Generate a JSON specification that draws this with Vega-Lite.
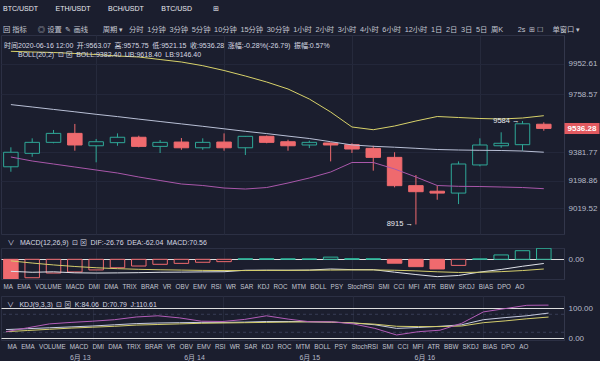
{
  "$schema": "https://vega.github.io/schema/vega-lite/v6.json",
  "background": "#1b1e2e",
  "padding": {"left": 0, "top": 5, "right": 0, "bottom": 0},
  "spacing": 3,
  "title": {
    "text": "BTC/USDT\u2003\u2003\u2002ETH/USDT\u2003\u2003\u2002BCH/USDT\u2003\u2003\u2002BTC/USD\u2003\u2003\u2003⊞",
    "subtitle": "回 指标\u2003\u2002◎ 设置\u2002✎ 画线\u2003\u2003周期 ▾\u2002 分时\u20021分钟\u20023分钟\u20025分钟\u200210分钟\u200215分钟\u200230分钟\u20021小时\u20022小时\u20023小时\u20024小时\u20026小时\u200212小时\u20021日\u20022日\u20023日\u20025日\u2002周K\u2003\u20032s\u2002⊞ ☐\u2003 单窗口 ▾",
    "anchor": "start",
    "frame": "bounds",
    "dx": 3,
    "fontSize": 7,
    "color": "#e8eaf0",
    "subtitleFontSize": 7.3,
    "subtitleColor": "#c3c6d1",
    "subtitlePadding": 14,
    "offset": 1
  },
  "datasets": {
    "k": [
      {"t": "2020-06-12T08:00", "open": 9288, "high": 9414, "low": 9256, "close": 9382, "ub": 10034.7, "mid": 9690.1, "lb": 9351.3, "macd": -134, "dif": -77, "dea": -10, "k": 29, "d": 22, "j": 22},
      {"t": "2020-06-12T12:00", "open": 9375, "high": 9472, "low": 9353, "close": 9446, "ub": 10030.2, "mid": 9674.6, "lb": 9325.4, "macd": -118, "dif": -83, "dea": -24, "k": 32, "d": 26, "j": 35},
      {"t": "2020-06-12T16:00", "open": 9446, "high": 9526, "low": 9440, "close": 9504, "ub": 10027, "mid": 9659, "lb": 9306, "macd": -88, "dif": -80, "dea": -36, "k": 35, "d": 30, "j": 48},
      {"t": "2020-06-12T20:00", "open": 9504, "high": 9565, "low": 9392, "close": 9429, "ub": 10020.5, "mid": 9643.5, "lb": 9286.6, "macd": -81, "dif": -86.5, "dea": -46, "k": 38, "d": 34, "j": 53},
      {"t": "2020-06-13T00:00", "open": 9424, "high": 9468, "low": 9317, "close": 9450, "ub": 10014, "mid": 9627.4, "lb": 9267.2, "macd": -68, "dif": -88, "dea": -54, "k": 41, "d": 37, "j": 57},
      {"t": "2020-06-13T04:00", "open": 9444, "high": 9504, "low": 9424, "close": 9479, "ub": 10004.3, "mid": 9612.5, "lb": 9247.8, "macd": -54, "dif": -87, "dea": -60, "k": 45, "d": 40, "j": 62},
      {"t": "2020-06-13T08:00", "open": 9479, "high": 9489, "low": 9414, "close": 9420, "ub": 9997.9, "mid": 9596.3, "lb": 9222, "macd": -43, "dif": -85.5, "dea": -64, "k": 49, "d": 44, "j": 71},
      {"t": "2020-06-13T12:00", "open": 9420, "high": 9461, "low": 9377, "close": 9446, "ub": 9981.7, "mid": 9580.8, "lb": 9199.3, "macd": -32, "dif": -83, "dea": -67, "k": 51, "d": 46, "j": 75},
      {"t": "2020-06-13T16:00", "open": 9448, "high": 9474, "low": 9398, "close": 9411, "ub": 9965.5, "mid": 9565.3, "lb": 9176.7, "macd": -26, "dif": -82, "dea": -69, "k": 52, "d": 48, "j": 68},
      {"t": "2020-06-13T20:00", "open": 9411, "high": 9472, "low": 9398, "close": 9446, "ub": 9941.6, "mid": 9549.8, "lb": 9167, "macd": -19, "dif": -80.5, "dea": -71, "k": 53, "d": 50, "j": 57},
      {"t": "2020-06-14T00:00", "open": 9448, "high": 9504, "low": 9392, "close": 9411, "ub": 9910.6, "mid": 9533.6, "lb": 9150.8, "macd": -15, "dif": -79.5, "dea": -72, "k": 53, "d": 51, "j": 56},
      {"t": "2020-06-14T04:00", "open": 9411, "high": 9487, "low": 9364, "close": 9485, "ub": 9875, "mid": 9517.4, "lb": 9144.3, "macd": 4, "dif": -70, "dea": -72, "k": 54, "d": 52, "j": 63},
      {"t": "2020-06-14T08:00", "open": 9485, "high": 9490, "low": 9440, "close": 9446, "ub": 9836.2, "mid": 9502.6, "lb": 9154, "macd": 3.5, "dif": -69.25, "dea": -71, "k": 56, "d": 53, "j": 75},
      {"t": "2020-06-14T12:00", "open": 9450, "high": 9463, "low": 9392, "close": 9424, "ub": 9791, "mid": 9486.4, "lb": 9183.2, "macd": 3, "dif": -69.5, "dea": -71, "k": 56, "d": 54, "j": 64},
      {"t": "2020-06-14T16:00", "open": 9429, "high": 9457, "low": 9409, "close": 9446, "ub": 9726.3, "mid": 9470.9, "lb": 9215.5, "macd": 2.5, "dif": -68.75, "dea": -70, "k": 55, "d": 55, "j": 55},
      {"t": "2020-06-14T20:00", "open": 9442, "high": 9444, "low": 9323, "close": 9429, "ub": 9642.2, "mid": 9450.2, "lb": 9254.3, "macd": 14, "dif": -62, "dea": -69, "k": 54, "d": 54, "j": 55},
      {"t": "2020-06-15T00:00", "open": 9431, "high": 9440, "low": 9377, "close": 9403, "ub": 9545.3, "mid": 9429.5, "lb": 9315.7, "macd": 4, "dif": -66, "dea": -68, "k": 51, "d": 51, "j": 48},
      {"t": "2020-06-15T04:00", "open": 9407, "high": 9424, "low": 9263, "close": 9349, "ub": 9527.8, "mid": 9420.5, "lb": 9315.7, "macd": 3.5, "dif": -66.25, "dea": -68, "k": 45, "d": 47, "j": 33},
      {"t": "2020-06-15T08:00", "open": 9349, "high": 9382, "low": 9155, "close": 9166, "ub": 9551.7, "mid": 9414.6, "lb": 9273.7, "macd": -25, "dif": -82.5, "dea": -70, "k": 33, "d": 40, "j": 11},
      {"t": "2020-06-15T12:00", "open": 9166, "high": 9235, "low": 8915, "close": 9127, "ub": 9584, "mid": 9407.5, "lb": 9222, "macd": -47, "dif": -97.5, "dea": -74, "k": 36, "d": 39, "j": 22},
      {"t": "2020-06-15T16:00", "open": 9130, "high": 9166, "low": 9075, "close": 9118, "ub": 9613.1, "mid": 9399.8, "lb": 9167, "macd": -62, "dif": -111, "dea": -80, "k": 40, "d": 39, "j": 27},
      {"t": "2020-06-15T20:00", "open": 9118, "high": 9323, "low": 9047, "close": 9306, "ub": 9606.7, "mid": 9396.5, "lb": 9161.8, "macd": -39, "dif": -103.5, "dea": -84, "k": 45, "d": 41, "j": 50},
      {"t": "2020-06-16T00:00", "open": 9300, "high": 9472, "low": 9291, "close": 9429, "ub": 9600.2, "mid": 9394.6, "lb": 9160.5, "macd": 3, "dif": -81.5, "dea": -83, "k": 62, "d": 52, "j": 88},
      {"t": "2020-06-16T04:00", "open": 9424, "high": 9511, "low": 9411, "close": 9440, "ub": 9597, "mid": 9393.3, "lb": 9157.3, "macd": 28, "dif": -65, "dea": -79, "k": 69, "d": 58, "j": 99},
      {"t": "2020-06-16T08:00", "open": 9431, "high": 9584, "low": 9392, "close": 9566, "ub": 9603.4, "mid": 9390, "lb": 9154, "macd": 55, "dif": -44.5, "dea": -72, "k": 75, "d": 65, "j": 110},
      {"t": "2020-06-16T12:00", "open": 9563.07, "high": 9575.75, "low": 9521.15, "close": 9536.28, "ub": 9618.4, "mid": 9382.4, "lb": 9146.4, "macd": 70.56, "dif": -26.76, "dea": -62.04, "k": 84.06, "d": 70.79, "j": 110.61}
    ],
    "ann": [
      {"t": "2020-06-16T08:00", "price": 9584, "label": "9584 →"},
      {"t": "2020-06-15T12:00", "price": 8915, "label": "8915 →"}
    ],
    "last": [{"price": 9536.28}],
    "levels": [{"lvl": 20}, {"lvl": 80}]
  },
  "config": {
    "font": "Liberation Sans, Noto Sans CJK SC",
    "view": {"stroke": "#2c3044", "strokeWidth": 1},
    "axis": {"labelFont": "Liberation Sans, Noto Sans CJK SC", "labelFontSize": 8, "labelColor": "#b6bac8", "domain": false, "ticks": false, "labelOverlap": false},
    "title": {"font": "Liberation Sans, Noto Sans CJK SC", "subtitleFont": "Liberation Sans, Noto Sans CJK SC", "fontWeight": "normal", "anchor": "start"}
  },
  "vconcat": [
    {
      "width": 563,
      "height": 199,
      "title": {
        "text": "时间2020-06-16 12:00\u2002开:9563.07\u2002高:9575.75\u2002低:9521.15\u2002收:9536.28\u2002涨幅:-0.28%(-26.79)\u2002振幅:0.57%",
        "subtitle": "\u200b\u2003\u2003BOLL(20,2)\u2002⊡ ⊠\u2002BOLL:9382.40\u2002UB:9618.40\u2002LB:9146.40",
        "dx": 3,
        "fontSize": 7,
        "color": "#d6d9e2",
        "subtitleFontSize": 7,
        "subtitleColor": "#d6d9e2",
        "subtitlePadding": 2,
        "offset": -23
      },
      "resolve": {"scale": {"y": "shared"}, "axis": {"y": "independent"}},
      "encoding": {
        "x": {
          "field": "t", "type": "temporal",
          "scale": {"domain": [{"year": 2020, "month": 6, "date": 12, "hours": 7, "minutes": 5}, {"year": 2020, "month": 6, "date": 16, "hours": 14, "minutes": 51}]},
          "axis": {"title": null, "labels": false, "ticks": false, "domain": false, "grid": true, "gridColor": "#262a3c",
                   "values": [{"year": 2020, "month": 6, "date": 13}, {"year": 2020, "month": 6, "date": 14}, {"year": 2020, "month": 6, "date": 15}, {"year": 2020, "month": 6, "date": 16}]}
        }
      },
      "layer": [
        {
          "data": {"name": "k"},
          "mark": {"type": "rule", "strokeWidth": 1, "clip": true},
          "encoding": {
            "y": {
              "field": "low", "type": "quantitative",
              "scale": {"domain": [8853.5, 10140.1], "nice": false, "zero": false},
              "axis": {
                "orient": "right", "title": null, "format": ".2f", "labelOverlap": false,
                "values": [9019.52, 9198.86, 9381.77, 9758.57, 9952.61],
                "domain": true, "domainColor": "#33374b",
                "grid": true, "gridColor": "#23273a",
                "labelPadding": 4
              }
            },
            "y2": {"field": "high"},
            "color": {"condition": {"test": "datum.close >= datum.open", "value": "#2fa898"}, "value": "#ef6a6e"}
          }
        },
        {
          "data": {"name": "k"},
          "mark": {"type": "bar", "width": 14.5, "strokeWidth": 1, "clip": true},
          "encoding": {
            "y": {"field": "open", "type": "quantitative", "axis": null},
            "y2": {"field": "close"},
            "fill": {"condition": {"test": "datum.close >= datum.open", "value": "#1b1e2e"}, "value": "#ef6a6e"},
            "stroke": {"condition": {"test": "datum.close >= datum.open", "value": "#2fa898"}, "value": "#ef6a6e"}
          }
        },
        {
          "data": {"name": "k"},
          "mark": {"type": "line", "strokeWidth": 1, "color": "#d8d26a", "clip": true},
          "encoding": {"y": {"field": "ub", "type": "quantitative", "axis": null}}
        },
        {
          "data": {"name": "k"},
          "mark": {"type": "line", "strokeWidth": 1, "color": "#b9c0d6", "clip": true},
          "encoding": {"y": {"field": "mid", "type": "quantitative", "axis": null}}
        },
        {
          "data": {"name": "k"},
          "mark": {"type": "line", "strokeWidth": 1, "color": "#a957aa", "clip": true},
          "encoding": {"y": {"field": "lb", "type": "quantitative", "axis": null}}
        },
        {
          "data": {"name": "ann"},
          "mark": {"type": "text", "align": "right", "baseline": "middle", "dx": -3, "fontSize": 7.5, "color": "#e8eaf0"},
          "encoding": {"y": {"field": "price", "type": "quantitative", "axis": null}, "text": {"field": "label"}}
        },
        {
          "data": {"name": "last"},
          "mark": {"type": "point", "opacity": 0},
          "encoding": {
            "x": null,
            "y": {
              "field": "price", "type": "quantitative",
              "axis": {
                "orient": "right", "title": null, "format": ".2f", "labelOverlap": false,
                "values": [9536.28], "domain": false, "grid": false,
                "ticks": true, "tickSize": 35, "tickWidth": 11, "tickColor": "#e25a60",
                "labelPadding": -32, "labelColor": "#ffffff", "labelFontWeight": "bold"
              }
            }
          }
        }
      ]
    },
    {
      "width": 563,
      "height": 31,
      "title": {
        "text": "\u200b\u2002∨\u2002 MACD(12,26,9)\u2002⊡ ⊠\u2002DIF:-26.76\u2002DEA:-62.04\u2002MACD:70.56",
        "dx": 3,
        "fontSize": 7,
        "color": "#d6d9e2",
        "offset": 2
      },
      "data": {"name": "k"},
      "transform": [{"window": [{"op": "lag", "field": "macd", "as": "prev"}], "sort": [{"field": "t"}]}],
      "encoding": {
        "x": {
          "field": "t", "type": "temporal",
          "scale": {"domain": [{"year": 2020, "month": 6, "date": 12, "hours": 7, "minutes": 5}, {"year": 2020, "month": 6, "date": 16, "hours": 14, "minutes": 51}]},
          "axis": {"title": null, "labels": false, "ticks": false, "domain": false, "grid": true, "gridColor": "#262a3c",
                   "values": [{"year": 2020, "month": 6, "date": 13}, {"year": 2020, "month": 6, "date": 14}, {"year": 2020, "month": 6, "date": 15}, {"year": 2020, "month": 6, "date": 16}]}
        }
      },
      "layer": [
        {
          "mark": {"type": "bar", "width": 14.5, "strokeWidth": 1, "clip": true},
          "encoding": {
            "y": {
              "field": "macd", "type": "quantitative",
              "scale": {"domain": [-126, 72.3], "nice": false, "zero": false},
              "axis": {"orient": "right", "title": null, "values": [0], "format": ".2f", "domain": true, "domainColor": "#33374b", "labelPadding": 4}
            },
            "y2": {"datum": 0},
            "fill": {"condition": [{"test": "datum.prev != null && datum.macd > datum.prev", "value": "#1b1e2e"}, {"test": "datum.macd >= 0", "value": "#2fb79c"}], "value": "#ef6a6e"},
            "stroke": {"condition": {"test": "datum.macd >= 0", "value": "#2fb79c"}, "value": "#ef6a6e"}
          }
        },
        {
          "mark": {"type": "line", "strokeWidth": 1, "color": "#dfe2ea", "clip": true},
          "encoding": {"y": {"field": "dif", "type": "quantitative"}}
        },
        {
          "mark": {"type": "line", "strokeWidth": 1, "color": "#d4cd6c", "clip": true},
          "encoding": {"y": {"field": "dea", "type": "quantitative"}}
        }
      ]
    },
    {
      "width": 563,
      "height": 44,
      "title": {
        "text": "MA\u2002\u2006EMA\u2002\u2006VOLUME\u2002\u2006MACD\u2002\u2006DMI\u2002\u2006DMA\u2002\u2006TRIX\u2002\u2006BRAR\u2002\u2006VR\u2002\u2006OBV\u2002\u2006EMV\u2002\u2006RSI\u2002\u2006WR\u2002\u2006SAR\u2002\u2006KDJ\u2002\u2006ROC\u2002\u2006MTM\u2002\u2006BOLL\u2002\u2006PSY\u2002\u2006StochRSI\u2002\u2006SMI\u2002\u2006CCI\u2002\u2006MFI\u2002\u2006ATR\u2002\u2006BBW\u2002\u2006SKDJ\u2002\u2006BIAS\u2002\u2006DPO\u2002\u2006AO",
        "subtitle": "\u200b\u2002∨\u2002 KDJ(9,3,3)\u2002⊡ ⊠\u2002K:84.06\u2002D:70.79\u2002J:110.61",
        "dx": 3,
        "fontSize": 6.3,
        "color": "#c3c6d1",
        "subtitleFontSize": 7,
        "subtitleColor": "#d6d9e2",
        "subtitlePadding": 11,
        "offset": -12
      },
      "encoding": {
        "x": {
          "field": "t", "type": "temporal",
          "scale": {"domain": [{"year": 2020, "month": 6, "date": 12, "hours": 7, "minutes": 5}, {"year": 2020, "month": 6, "date": 16, "hours": 14, "minutes": 51}]},
          "axis": {
            "title": "MA\u2002\u2006EMA\u2002\u2006VOLUME\u2002\u2006MACD\u2002\u2006DMI\u2002\u2006DMA\u2002\u2006TRIX\u2002\u2006BRAR\u2002\u2006VR\u2002\u2006OBV\u2002\u2006EMV\u2002\u2006RSI\u2002\u2006WR\u2002\u2006SAR\u2002\u2006KDJ\u2002\u2006ROC\u2002\u2006MTM\u2002\u2006BOLL\u2002\u2006PSY\u2002\u2006StochRSI\u2002\u2006SMI\u2002\u2006CCI\u2002\u2006MFI\u2002\u2006ATR\u2002\u2006BBW\u2002\u2006SKDJ\u2002\u2006BIAS\u2002\u2006DPO\u2002\u2006AO",
            "titleFont": "Liberation Sans, Noto Sans CJK SC", "titleFontSize": 6.3, "titleFontWeight": "normal", "titleColor": "#c3c6d1",
            "titleAnchor": "start", "titleAlign": "left", "titleX": 6, "titleY": 6.5, "titleBaseline": "middle",
            "labels": true, "format": "%-m月 %d", "labelFontSize": 7, "labelColor": "#b6bac8", "labelPadding": 13, "labelBaseline": "top",
            "labelOffset": {"condition": [
              {"test": "date(datum.value) == 13", "value": -13},
              {"test": "date(datum.value) == 14", "value": -29},
              {"test": "date(datum.value) == 15", "value": -44}
            ], "value": -59},
            "ticks": false, "domain": false, "grid": true, "gridColor": "#262a3c",
            "values": [{"year": 2020, "month": 6, "date": 13}, {"year": 2020, "month": 6, "date": 14}, {"year": 2020, "month": 6, "date": 15}, {"year": 2020, "month": 6, "date": 16}]
          }
        }
      },
      "layer": [
        {
          "data": {"name": "levels"},
          "mark": {"type": "rule", "strokeWidth": 1, "strokeDash": [3, 3], "color": "#383d55"},
          "encoding": {
            "x": null,
            "y": {
              "field": "lvl", "type": "quantitative",
              "scale": {"domain": [-5.7, 141], "nice": false, "zero": false},
              "axis": {"orient": "right", "title": null, "values": [0, 100], "format": ".2f", "domain": true, "domainColor": "#33374b", "labelPadding": 4}
            }
          }
        },
        {
          "data": {"name": "k"},
          "mark": {"type": "line", "strokeWidth": 1, "color": "#c6cbe0", "clip": true},
          "encoding": {"y": {"field": "k", "type": "quantitative"}}
        },
        {
          "data": {"name": "k"},
          "mark": {"type": "line", "strokeWidth": 1, "color": "#d4cd6c", "clip": true},
          "encoding": {"y": {"field": "d", "type": "quantitative"}}
        },
        {
          "data": {"name": "k"},
          "mark": {"type": "line", "strokeWidth": 1, "color": "#b35db8", "clip": true},
          "encoding": {"y": {"field": "j", "type": "quantitative"}}
        }
      ]
    }
  ]
}
